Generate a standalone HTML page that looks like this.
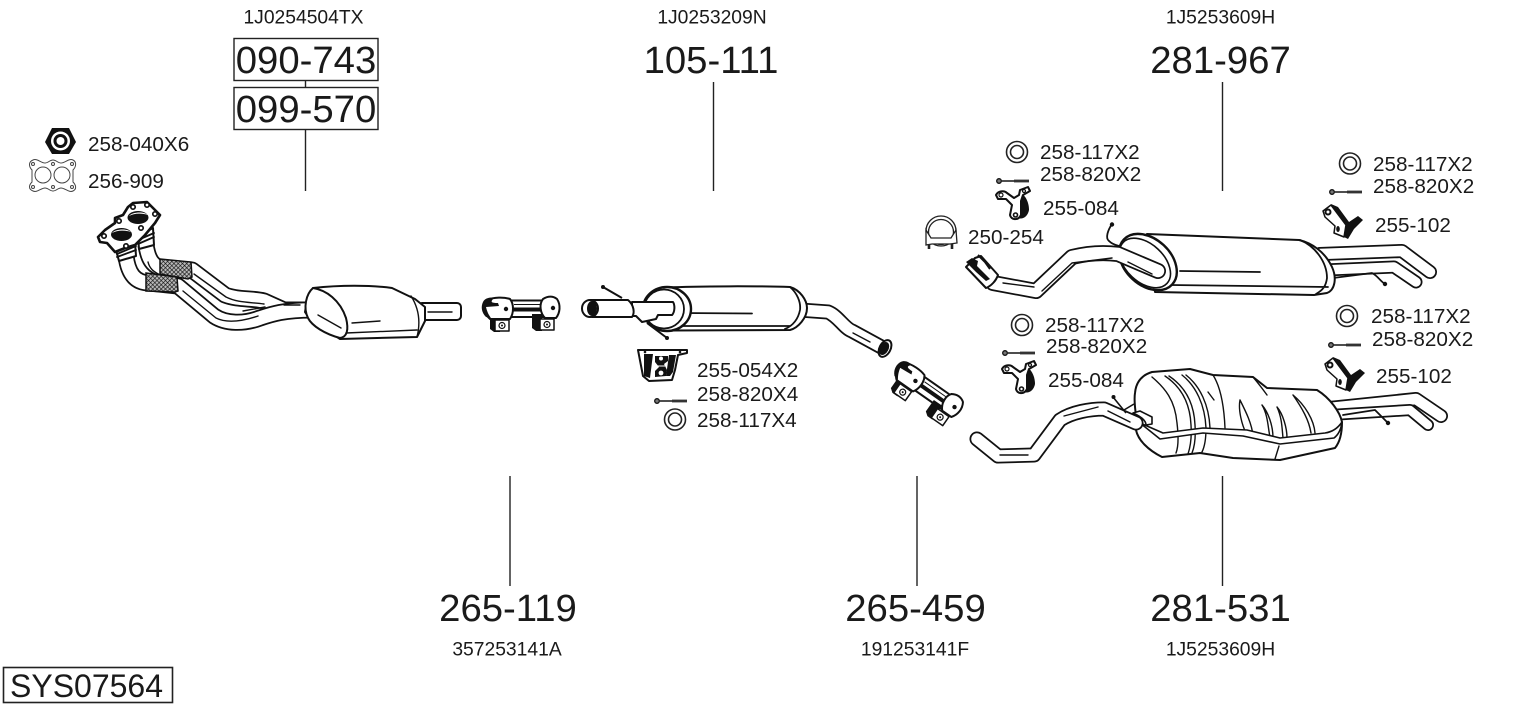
<!DOCTYPE html>
<html><head><meta charset="utf-8"><style>
html,body{margin:0;padding:0;background:#fff}
svg{display:block}
text{font-family:"Liberation Sans",sans-serif;fill:#1a1a1a}
.b{font-size:38.3px}.s{font-size:19.3px}.m{font-size:20.7px}
.o{fill:#fff;stroke:#111;stroke-width:2;stroke-linejoin:round}
.t{fill:#fff;stroke:#111;stroke-width:1.2}
.l{fill:none;stroke:#111;stroke-width:1.4;stroke-linecap:round;stroke-linejoin:round}
.w{fill:none;stroke:#111;stroke-width:1.8;stroke-linecap:round;stroke-linejoin:round}
.po{fill:none;stroke:#111;stroke-linejoin:round}
.pi{fill:none;stroke:#fff;stroke-linejoin:round}
.r{stroke-linecap:round}
.k{fill:#111;stroke:none}
</style></head><body>
<svg width="1530" height="711" viewBox="0 0 1530 711" xmlns="http://www.w3.org/2000/svg">
<defs>
<pattern id="mesh" width="3" height="3" patternUnits="userSpaceOnUse" patternTransform="rotate(45)"><rect width="3" height="3" fill="#bbb"/><path d="M0 0H3M0 0V3" stroke="#111" stroke-width="1.3"/></pattern>
<g id="washer"><circle r="10.5" fill="#fff" stroke="#222" stroke-width="1.6"/><circle r="6.500" fill="#fff" stroke="#222" stroke-width="1.6"/></g>
<g id="bolt"><circle cx="2" cy="0" r="2.300" fill="#777" stroke="#111" stroke-width="1.300"/><path d="M4 0H17" stroke="#222" stroke-width="1.600"/><path d="M17 0H32" stroke="#333" stroke-width="2.800"/></g>
<g id="h84">
<path class="k" d="M23 5C30 8 33 16 33 23C32 29 27 33 22 31Z"/>
<path class="o" d="M0 8C2 4 8 3 11 6L18 11L23 8L24 3L32 0L34 4L27 8L25 14L25 28C22 34 15 33 14 28L16 18L10 12L2 12Z"/>
<circle cx="5" cy="8" r="2" class="t"/><circle cx="28" cy="4" r="1.500" class="t"/><circle cx="19.500" cy="28" r="2.800" class="k"/><circle cx="19.500" cy="28" r="1.200" fill="#fff"/>
</g>
<g id="h102">
<path class="k" d="M9 3L16 6L27 21L36 15L41 19L32 28L26 38L22 36L24 24L12 10Z"/>
<path class="o" d="M1 10L9 4L24 24L22 36L12 32L13 25L3 16Z" style="stroke-width:1.500"/>
<circle cx="6" cy="11" r="3.500" class="k"/><circle cx="6" cy="11" r="1.500" fill="#fff"/>
<ellipse cx="16" cy="28" rx="1.800" ry="3" class="k"/>
</g>
<g id="clamp">
<rect x="510" y="300.500" width="34" height="16.500" class="o"/>
<path d="M514 304.500H540" stroke="#111" stroke-width="1"/><path d="M512 309.500H542" stroke="#111" stroke-width="4"/>
<path class="k" d="M490 314H500V332H494L490 329Z"/>
<path class="k" d="M532 314H542V331H536L532 328Z"/>
<path class="o" d="M487 300C494 297 504 297 510 299C514 304 514 313 510 319H490C484 314 482 305 487 300Z"/>
<path class="k" d="M483 302C485 298 490 297 494 298C490 302 491 303 498 303L499 306L486 307C487 311 488 314 491 318L486 317C481 312 481 306 483 302Z"/>
<circle cx="506" cy="309" r="2.200" class="k"/>
<path class="o" d="M543 299C548 296 553 296 557 299C561 305 560 313 556 318H545C540 313 539 304 543 299Z"/>
<circle cx="553" cy="308" r="2.200" class="k"/>
<rect x="495" y="320" width="14" height="11" class="o" style="stroke-width:1.500"/><circle cx="502" cy="325.500" r="3" class="t"/><circle cx="502" cy="325.500" r="1" class="k"/>
<rect x="540" y="319" width="14" height="11" class="o" style="stroke-width:1.500"/><circle cx="547" cy="324.500" r="3" class="t"/><circle cx="547" cy="324.500" r="1" class="k"/>
</g>
</defs>

<!-- callout lines -->
<g stroke="#222" stroke-width="1.400">
<path d="M305.500 80V87M305.500 129V191M713.500 82V191M1222.500 82V191M510 476V586M917 476V586M1222.500 476V586" fill="none"/>
</g>
<rect x="234" y="38.500" width="144" height="42" fill="none" stroke="#222" stroke-width="1.400"/>
<rect x="234" y="87.500" width="144" height="42" fill="none" stroke="#222" stroke-width="1.400"/>
<rect x="3.500" y="667.500" width="169" height="35" fill="none" stroke="#222" stroke-width="1.600"/>

<!-- small parts left -->
<path d="M52 128H69L76 142L69 154H52L45 142Z" fill="#111"/>
<circle cx="60.500" cy="141" r="9.500" fill="#fff"/><circle cx="60.500" cy="141" r="7" fill="#111"/><circle cx="60.500" cy="141" r="4" fill="#fff"/>
<g fill="#fff" stroke="#444" stroke-width="1">
<path d="M33 160C37 158 41 163 45 163C48 163 50 160 53 160C56 160 58 163 61 163C65 163 69 158 73 160C77 162 76 167 73 170V182C76 185 77 189 73 191C69 193 65 188 61 188C58 188 56 191 53 191C50 191 48 188 45 188C41 188 37 193 33 191C28 189 29 185 32 182V170C29 167 28 162 33 160Z"/>
<circle cx="43" cy="175" r="8"/><circle cx="62" cy="175" r="8"/>
<circle cx="33" cy="164" r="1.500"/><circle cx="53" cy="164" r="1.500"/><circle cx="72" cy="164" r="1.500"/><circle cx="33" cy="187" r="1.500"/><circle cx="53" cy="187" r="1.500"/><circle cx="72" cy="187" r="1.500"/>
</g>

<!-- front pipe + catalyst -->
<g>
<path class="po" stroke-width="17" d="M146 245C148 258 152 268 166 269L192 270L225 295C238 300 252 298 264 301L284 310H312"/>
<path class="pi" stroke-width="13.500" d="M146 245C148 258 152 268 166 269L192 270L225 295C238 300 252 298 264 301L284 310H312"/>
<path class="po" stroke-width="17" d="M126 256C128 272 134 283 150 283L178 286L214 316C226 324 244 324 260 318C272 314 284 310 312 310"/>
<path class="pi" stroke-width="13.500" d="M126 256C128 272 134 283 150 283L178 286L214 316C226 324 244 324 260 318C272 314 284 310 312 310"/>
<path class="l" d="M148 262C150 270 155 272 160 275M194 274L226 297C238 303 250 302 264 304M183 291L216 318C226 323 240 322 258 316M243 311L265 307M284 305H300"/>
<path d="M160 259L191 262L192 277L188 279L160 274Z" fill="url(#mesh)" stroke="#111" stroke-width="1.500"/>
<path d="M146 273L177 277L178 291L175 292L146 291Z" fill="url(#mesh)" stroke="#111" stroke-width="1.500"/>
<!-- cat -->
<rect x="418" y="303" width="43" height="17" rx="4" class="o"/>
<path class="l" d="M428 312H452"/>
<path class="o" d="M313 288C340 285 370 285 392 288L415 299L425 307L425 321L417 337L340 339L310 319L305 312L307 300Z"/>
<path class="o" d="M313 288C326 290 340 300 346 318C349 330 347 337 340 338C325 334 312 326 308 318C303 308 306 294 313 288Z"/>
<path class="l" d="M318 315L341 328M352 323L380 321M417 337C420 325 420 310 411 296M346 333L417 330"/>
</g>
<!-- flange -->
<g>
<path class="o" d="M138 236L153 228L154 245L139 249Z"/>
<path class="o" d="M116 250L135 242L136 256L119 261Z"/>
<path class="l" d="M138 240L154 233M138 244L154 237M117 254L136 246M117 257L136 250" style="stroke-width:1.800"/>
<path d="M98 237L105 230L115 223L115 218L123 215L128 207L133 203L147 202L155 210L160 215L155 223L145 235L135 245L125 248L115 252L107 243L100 242Z" fill="#fff" stroke="#111" stroke-width="2.600" stroke-linejoin="round"/>
<ellipse cx="138" cy="217.500" rx="10.500" ry="6.500" fill="#111"/><ellipse cx="121.500" cy="234.500" rx="10.500" ry="6.500" fill="#111"/>
<path d="M129 216C132 212 144 211 148 215C142 213 134 213 129 216ZM112 233C115 229 127 228 131 232C125 230 117 230 112 233Z" fill="#fff"/>
<g fill="#fff" stroke="#111" stroke-width="1.700"><circle cx="133" cy="207" r="2.200"/><circle cx="147" cy="205" r="2.200"/><circle cx="155" cy="214" r="2.200"/><circle cx="141" cy="228" r="2.200"/><circle cx="119" cy="221" r="2.200"/><circle cx="104" cy="236" r="2.200"/><circle cx="126" cy="246" r="2.200"/></g>
</g>

<!-- clamp 1 -->
<use href="#clamp"/>

<!-- center muffler -->
<g>
<path class="po" stroke-width="15" d="M800 310L828 312C838 316 844 328 852 331L885 349"/>
<path class="pi" stroke-width="11.500" d="M800 310L828 312C838 316 844 328 852 331L885 349"/>
<path class="l" d="M853 333L870 342"/>
<ellipse cx="885" cy="348.500" rx="5.500" ry="9" transform="rotate(28 885 348.500)" class="o"/>
<ellipse cx="884" cy="348.500" rx="4.500" ry="7" transform="rotate(28 884 348.500)" class="k"/>
<path d="M603 287L622 298M647 323L667 338" stroke="#111" stroke-width="2"/>
<circle cx="603" cy="287" r="2" class="k"/><circle cx="667" cy="338" r="2" class="k"/>
<path class="o" d="M665 287.500C700 286 760 286 790 287C800 290 807 300 807 308C807 318 798 328 790 330L670 330.500Z"/>
<path class="w" d="M790 287C797 293 801 302 800 310C798 320 792 326 785 329M680 313L752 313.500M683 326H790"/>
<ellipse cx="667" cy="309" rx="24" ry="22" fill="#fff" stroke="#111" stroke-width="2.400"/>
<ellipse cx="664" cy="309" rx="20" ry="19.500" fill="#fff" stroke="#111" stroke-width="1.800"/>
<path class="o" d="M632 302H673C675 305 675 312 672 315H658L656 319L642 322L636 316H632Z"/>
<path class="o" d="M590 300L628 300C634 305 635 313 632 317L592 317Z"/>
<ellipse cx="590" cy="308.500" rx="8" ry="8.500" class="o"/>
<ellipse cx="592" cy="308.500" rx="5" ry="7.500" class="k"/>
</g>
<!-- hanger 255-054 -->
<g>
<path d="M638 350L687 350L687 353L678 355L675 370L672 380L649 381L643 376Z" class="o"/>
<path class="k" d="M644 354L653 354L650 378L644 376Z"/>
<path class="k" d="M669 355L676 355L673 372L670 376L666 376Z"/>
<path class="k" d="M655 356L668 356L668 361L664 364L667 370L666 376L655 377L655 371L659 367L655 362Z"/>
<circle cx="661" cy="358.500" r="2" fill="#fff"/><circle cx="661" cy="373" r="2.400" fill="#fff"/><path d="M657 366L665 366" stroke="#fff" stroke-width="1"/>
<circle cx="645" cy="352" r="1.300" class="k"/><circle cx="680" cy="352" r="1.300" class="k"/>
</g>
<use href="#bolt" x="655" y="401"/>
<use href="#washer" x="675" y="419.500"/>

<!-- clamp 2 -->
<use href="#clamp" transform="translate(926 392) rotate(35) translate(-521 -312)"/>

<!-- rear muffler top -->
<g>
<path class="po r" stroke-width="14" d="M1320 254L1402 251L1430 272"/>
<path class="pi r" stroke-width="10.500" d="M1320 254L1402 251L1430 272"/>
<path class="po r" stroke-width="13" d="M1325 270L1394 267L1416 282"/>
<path class="pi r" stroke-width="9.500" d="M1325 270L1394 267L1416 282"/>
<path class="w" d="M1333 278L1372 273C1378 276 1380 281 1385 284"/>
<circle cx="1385" cy="284" r="2.200" class="k"/>
<path class="o" d="M1147 234L1299 240C1312 243 1325 252 1332 267C1337 278 1335 290 1327 293L1314 295L1155 292Z"/>
<path class="w" d="M1300 240C1315 246 1327 262 1327 278C1326 286 1323 290 1316 294M1180 271L1260 272M1170 285L1328 287"/>
<ellipse cx="1148" cy="262" rx="23" ry="33" transform="rotate(-47 1148 262)" fill="#fff" stroke="#111" stroke-width="2.400"/>
<ellipse cx="1145" cy="263" rx="19" ry="30" transform="rotate(-47 1145 263)" fill="#fff" stroke="#111" stroke-width="1.600"/>
<path class="po r" stroke-width="16" d="M993 283L1036 291L1072 257C1088 253 1102 252 1118 254L1158 271"/>
<path class="pi r" stroke-width="12.500" d="M993 283L1036 291L1072 257C1088 253 1102 252 1118 254L1158 271"/>
<path class="l" d="M1003 283L1034 287M1042 291L1072 263L1112 258M1128 262L1152 274"/>
<path class="w" d="M1112 224C1108 230 1105 238 1109 241C1112 244 1115 245 1119 246"/>
<circle cx="1112" cy="224.500" r="2.200" class="k"/>
<!-- inlet end -->
<path class="o" d="M975 258L981 256L998 275C996 281 991 286 986 288L966 267Z"/>
<path class="k" d="M966 262L972 258L978 261L977 266L990 279L986 281L976 272Z"/>
<path d="M978 255L985 262L990 269" stroke="#111" stroke-width="2" fill="none"/>
</g>

<!-- rear muffler bottom -->
<g>
<path class="po r" stroke-width="14" d="M1310 410L1416 399L1441 416"/>
<path class="pi r" stroke-width="10.500" d="M1310 410L1416 399L1441 416"/>
<path class="po r" stroke-width="12" d="M1330 415L1410 410L1428 425"/>
<path class="pi r" stroke-width="8.500" d="M1330 415L1410 410L1428 425"/>
<path class="o" d="M1135 393C1136 382 1142 375 1152 372L1190 369L1213 375L1253 377L1267 388L1317 390C1330 398 1340 412 1342 422C1342 432 1340 442 1335 448L1280 460L1233 458L1200 453L1162 457C1148 450 1138 440 1136 430C1138 418 1133 405 1135 393Z"/>
<path class="l" d="M1152 377C1165 388 1175 400 1177 423C1179 440 1178 448 1176 453M1165 376C1180 386 1190 402 1191 425C1192 440 1190 448 1188 454M1169 376C1184 386 1194 402 1195 425C1196 440 1194 448 1192 453M1182 375C1196 386 1205 405 1206 428C1206 440 1204 448 1202 452M1186 375C1200 386 1209 405 1210 428M1213 375C1220 386 1224 405 1225 428M1208 392L1214 400M1240 400C1246 412 1252 424 1253 436M1240 400C1238 410 1242 425 1246 433M1262 405C1268 412 1273 425 1273 438M1262 405C1268 415 1268 428 1270 437M1277 407C1283 414 1287 428 1287 438M1277 407C1282 418 1282 428 1283 438M1293 395C1305 405 1314 420 1315 433M1293 395C1302 408 1309 420 1311 433M1253 377C1258 383 1262 388 1267 395M1279 446L1275 459"/>
<!-- strap -->
<path class="o" d="M1140 423L1163 433L1203 428L1247 430L1280 438L1325 433C1332 432 1338 428 1342 422C1341 430 1338 435 1334 438L1280 444L1243 436L1203 433L1160 439Z" style="stroke-width:1.600"/>
<path class="w" d="M1343 415L1375 410L1388 423"/>
<circle cx="1388" cy="423" r="2.200" class="k"/>
<path class="po r" stroke-width="15" d="M977 439L998 456L1034 455L1060 420C1072 412 1090 409 1104 409L1136 423"/>
<path class="pi r" stroke-width="11.500" d="M977 439L998 456L1034 455L1060 420C1072 412 1090 409 1104 409L1136 423"/>
<path class="l" d="M1000 455H1028M1064 416L1098 407M1108 411L1130 422"/>
<path class="o" d="M1133 413L1140 411L1152 417L1152 424L1146 425C1146 421 1142 417 1133 413Z" style="stroke-width:1.600"/>
<path d="M1113 397L1126 413M1124 410L1134 404" stroke="#111" stroke-width="1.600"/>
<circle cx="1113.500" cy="397" r="2" class="k"/>
</g>

<!-- washers, bolts, hangers -->
<use href="#washer" x="1017" y="152"/>
<use href="#bolt" x="997" y="181"/>
<use href="#h84" x="996" y="187"/>
<use href="#washer" x="1350" y="163.500"/>
<use href="#bolt" x="1330" y="192"/>
<use href="#h102" x="1322" y="201"/>
<use href="#washer" x="1022" y="325"/>
<use href="#bolt" x="1003" y="353"/>
<use href="#h84" x="1002" y="361"/>
<use href="#washer" x="1347" y="316"/>
<use href="#bolt" x="1329" y="345"/>
<use href="#h102" x="1324" y="354"/>
<!-- muffler clamp 250-254 -->
<g fill="none" stroke="#222" stroke-width="1.300">
<circle cx="941" cy="231" r="15"/><circle cx="941" cy="232" r="12.500"/>
<path fill="#fff" d="M926 230L931 238L951 238L956 230L957 243L950 244L932 244L926 245Z"/>
<path d="M929 244V249M952 244V249" stroke-width="2.600"/>
</g>

<!-- labels -->
<text class="s" x="303.500" y="23.500" text-anchor="middle">1J0254504TX</text>
<text class="s" x="712" y="23.500" text-anchor="middle">1J0253209N</text>
<text class="s" x="1220.500" y="23.500" text-anchor="middle">1J5253609H</text>
<text class="b" x="306" y="73" text-anchor="middle">090-743</text>
<text class="b" x="306" y="122" text-anchor="middle">099-570</text>
<text class="b" x="711" y="73" text-anchor="middle">105-111</text>
<text class="b" x="1220.500" y="73" text-anchor="middle">281-967</text>
<text class="b" x="508" y="621" text-anchor="middle">265-119</text>
<text class="b" x="915.500" y="621" text-anchor="middle">265-459</text>
<text class="b" x="1220.500" y="621" text-anchor="middle">281-531</text>
<text class="s" x="507" y="655.500" text-anchor="middle">357253141A</text>
<text class="s" x="915" y="655.500" text-anchor="middle">191253141F</text>
<text class="s" x="1220.500" y="655.500" text-anchor="middle">1J5253609H</text>
<text x="10" y="697" style="font-size:32px">SYS07564</text>
<text class="m" x="88" y="151">258-040X6</text>
<text class="m" x="88" y="188">256-909</text>
<text class="m" x="697" y="377">255-054X2</text>
<text class="m" x="697" y="401">258-820X4</text>
<text class="m" x="697" y="427">258-117X4</text>
<text class="m" x="1040" y="159">258-117X2</text>
<text class="m" x="1040" y="181">258-820X2</text>
<text class="m" x="1043" y="215">255-084</text>
<text class="m" x="968" y="244">250-254</text>
<text class="m" x="1373" y="171">258-117X2</text>
<text class="m" x="1373" y="193">258-820X2</text>
<text class="m" x="1375" y="232">255-102</text>
<text class="m" x="1045" y="332">258-117X2</text>
<text class="m" x="1046" y="353">258-820X2</text>
<text class="m" x="1048" y="387">255-084</text>
<text class="m" x="1371" y="323">258-117X2</text>
<text class="m" x="1372" y="346">258-820X2</text>
<text class="m" x="1376" y="383">255-102</text>
</svg>
</body></html>
